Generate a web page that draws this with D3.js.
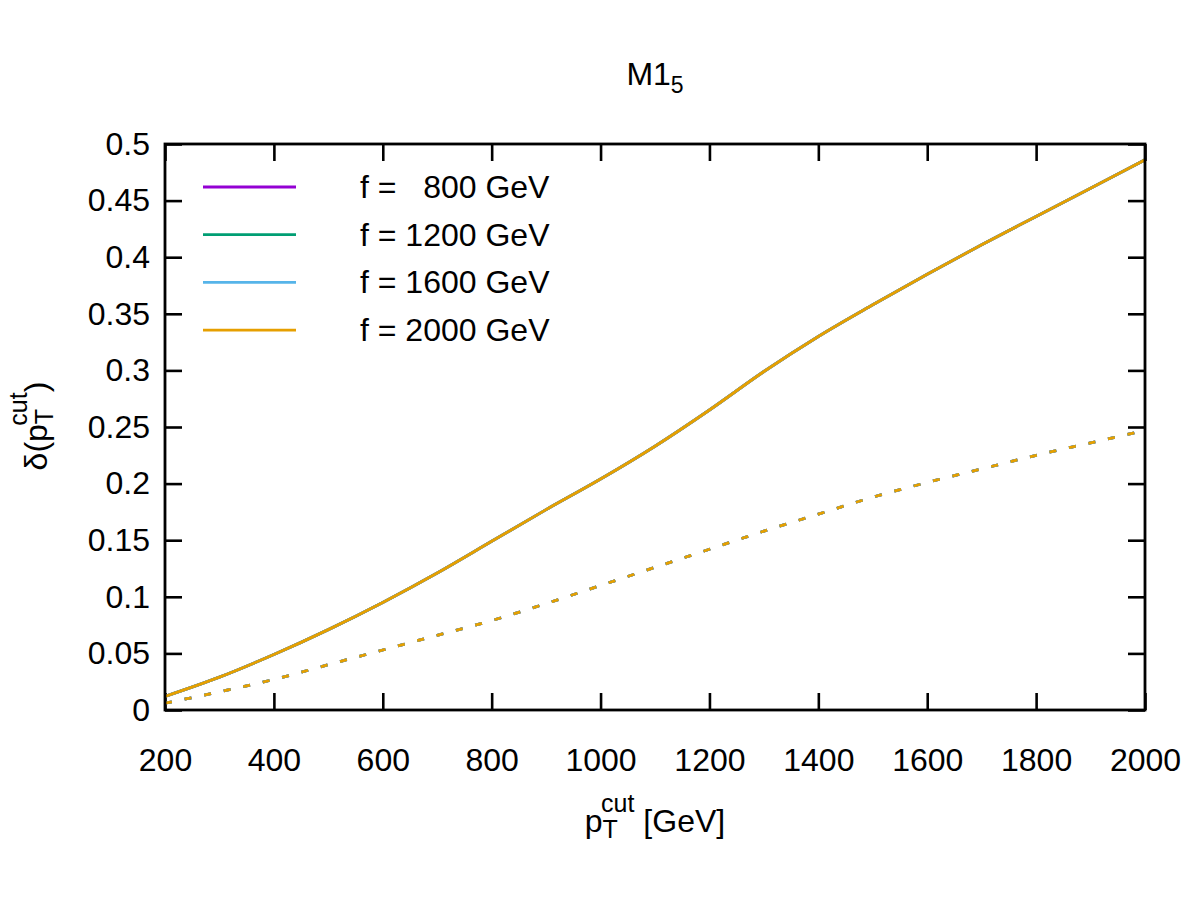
<html>
<head>
<script src="https://d3js.org/d3.v7.min.js"></script>
<style>
body {margin: 0; background: white;}
text {font-family: "Liberation Sans", Arial, Helvetica, sans-serif; fill: black;}
</style>
</head>
<body>
<svg id="chart" width="1200" height="900"></svg>
<script>
// values
var ptCut = [200, 300, 400, 500, 600, 700, 800, 900, 1000, 1100, 1200, 1300, 1400, 1500, 1600, 1700, 1800, 1900, 2000];
var deltaSolid = [0.012, 0.029, 0.049, 0.071, 0.095, 0.121, 0.149, 0.177, 0.204, 0.233, 0.265, 0.299, 0.330, 0.358, 0.385, 0.411, 0.436, 0.461, 0.486];
var deltaDashed = [0.006, 0.016, 0.027, 0.040, 0.053, 0.066, 0.079, 0.094, 0.110, 0.126, 0.142, 0.158, 0.173, 0.188, 0.201, 0.213, 0.225, 0.236, 0.247];

var fValues = [800, 1200, 1600, 2000];
var fLabels = ["f =   800 GeV", "f = 1200 GeV", "f = 1600 GeV", "f = 2000 GeV"];
var fColors = ["#9400d3", "#009e73", "#56b4e9", "#e69f00"];

var xTicks = [200, 400, 600, 800, 1000, 1200, 1400, 1600, 1800, 2000];
var yTicks = [0, 0.05, 0.1, 0.15, 0.2, 0.25, 0.3, 0.35, 0.4, 0.45, 0.5];
var yTickLabels = ["0", "0.05", "0.1", "0.15", "0.2", "0.25", "0.3", "0.35", "0.4", "0.45", "0.5"];

//layout
var marginLeft = 165, marginTop = 144, width = 980, height = 566;
var fontSize = 32;
var smallSize = 25;

var svg = d3.select("#chart");

//scales
var x = d3.scaleLinear().domain([200, 2000]).range([0, width]);
var y = d3.scaleLinear().domain([0, 0.5]).range([height, 0]);

var g = svg.append("g").attr("transform", "translate(" + marginLeft + "," + marginTop + ")");

svg.append("defs").append("clipPath").attr("id", "clip")
    .append("rect").attr("width", width).attr("height", height);

//axes, ticks pointing inward on all four sides
function styleAxis(sel) {
    sel.select(".domain").remove();
    sel.selectAll(".tick line").attr("stroke", "black").attr("stroke-width", 2.6);
    sel.selectAll(".tick text").style("font-size", fontSize + "px").attr("fill", "black");
}

g.append("g")
    .attr("transform", "translate(0," + height + ")")
    .call(d3.axisBottom(x).tickValues(xTicks).tickSize(-17).tickPadding(38).tickFormat(d3.format("d")))
    .call(styleAxis);

g.append("g")
    .call(d3.axisTop(x).tickValues(xTicks).tickSize(-17).tickFormat(""))
    .call(styleAxis);

g.append("g")
    .call(d3.axisLeft(y).tickValues(yTicks).tickSize(-17).tickPadding(15)
        .tickFormat(function(d, i) { return yTickLabels[i]; }))
    .call(styleAxis);

g.append("g")
    .attr("transform", "translate(" + width + ",0)")
    .call(d3.axisRight(y).tickValues(yTicks).tickSize(-17).tickFormat(""))
    .call(styleAxis);

//curves
var line = d3.line()
    .x(function(d, i) { return x(ptCut[i]); })
    .y(function(d) { return y(d); })
    .curve(d3.curveMonotoneX);

var curves = g.append("g").attr("clip-path", "url(#clip)");
fValues.forEach(function(f, k) {
    curves.append("path")
        .attr("d", line(deltaSolid))
        .attr("fill", "none")
        .attr("stroke", fColors[k])
        .attr("stroke-width", 2.8);
    curves.append("path")
        .attr("d", line(deltaDashed))
        .attr("fill", "none")
        .attr("stroke", fColors[k])
        .attr("stroke-width", 2.8)
        .attr("stroke-dasharray", "7,13");
});

//frame
g.append("rect")
    .attr("width", width).attr("height", height)
    .attr("fill", "none").attr("stroke", "black").attr("stroke-width", 2.8);

//legend
fValues.forEach(function(f, k) {
    var ly = 187 + k * 47.7;
    svg.append("line")
        .attr("x1", 203).attr("x2", 296).attr("y1", ly).attr("y2", ly)
        .attr("stroke", fColors[k]).attr("stroke-width", 2.8);
    svg.append("text")
        .attr("x", 360).attr("y", ly + 11)
        .style("font-size", fontSize + "px")
        .style("white-space", "pre")
        .attr("xml:space", "preserve")
        .text(fLabels[k]);
});

//title
var title = svg.append("text")
    .attr("x", marginLeft + width / 2).attr("y", 85)
    .attr("text-anchor", "middle")
    .style("font-size", fontSize + "px");
title.append("tspan").text("M1");
title.append("tspan").attr("dy", 8).style("font-size", "23px").text("5");

//x label: p_T^{cut} [GeV]
var xl = svg.append("text")
    .attr("x", marginLeft + width / 2).attr("y", 832)
    .attr("text-anchor", "middle")
    .style("font-size", fontSize + "px");
xl.append("tspan").text("p");
xl.append("tspan").attr("dy", 6).style("font-size", smallSize + "px").text("T");
xl.append("tspan").attr("dx", -14).attr("dy", -26).style("font-size", smallSize + "px").text("cut");
xl.append("tspan").attr("dy", 20).text(" [GeV]");

//y label: δ(p_T^{cut})
var yl = svg.append("text")
    .attr("transform", "translate(47,426) rotate(-90)")
    .attr("text-anchor", "middle")
    .style("font-size", fontSize + "px");
yl.append("tspan").text("δ(p");
yl.append("tspan").attr("dy", 6).style("font-size", smallSize + "px").text("T");
yl.append("tspan").attr("dx", -14).attr("dy", -26).style("font-size", smallSize + "px").text("cut");
yl.append("tspan").attr("dy", 20).text(")");
</script>
</body>
</html>
